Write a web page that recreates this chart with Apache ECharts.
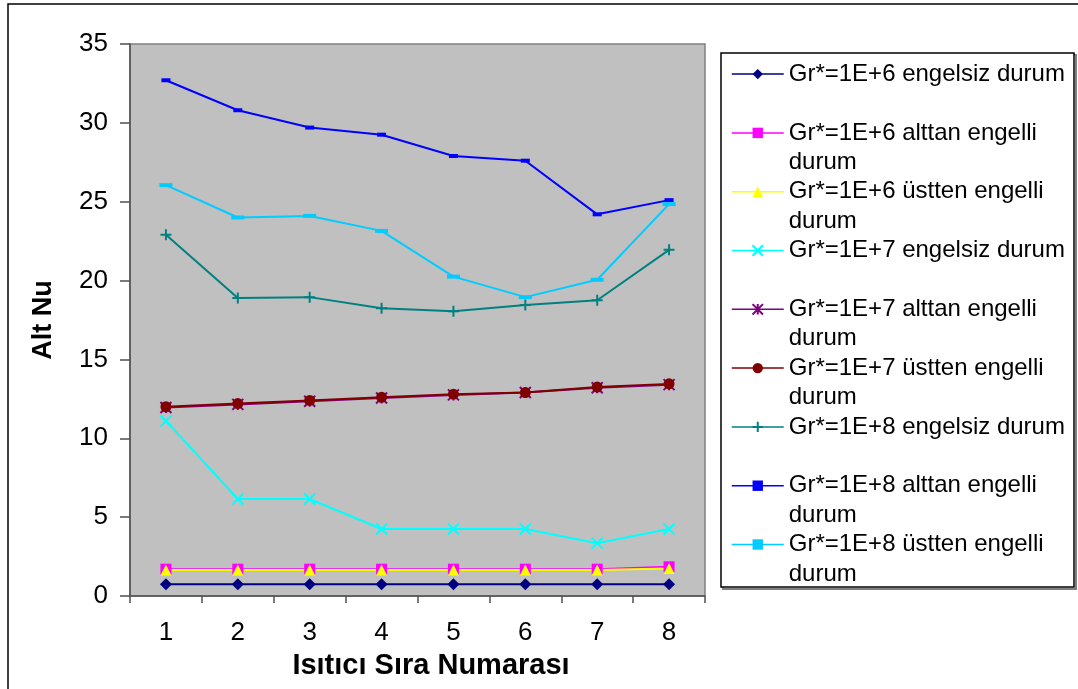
<!DOCTYPE html>
<html>
<head>
<meta charset="utf-8">
<script src="https://cdn.jsdelivr.net/npm/echarts@6/dist/echarts.min.js"></script>
<style>
  html, body { margin: 0; padding: 0; background: #fff; }
  #chart { width: 1078px; height: 689px; }
</style>
</head>
<body>
<div id="chart"></div>
<script>
// categories and values
var categories = ['1', '2', '3', '4', '5', '6', '7', '8'];
var seriesNames = [
    'Gr*=1E+6 engelsiz durum',
    'Gr*=1E+6 alttan engelli durum',
    'Gr*=1E+6 üstten engelli durum',
    'Gr*=1E+7 engelsiz durum',
    'Gr*=1E+7 alttan engelli durum',
    'Gr*=1E+7 üstten engelli durum',
    'Gr*=1E+8 engelsiz durum',
    'Gr*=1E+8 alttan engelli durum',
    'Gr*=1E+8 üstten engelli durum'
];
// how the legend breaks each name into lines
var legendLines = [
    ['Gr*=1E+6 engelsiz durum', ''],
    ['Gr*=1E+6 alttan engelli', 'durum'],
    ['Gr*=1E+6 üstten engelli', 'durum'],
    ['Gr*=1E+7 engelsiz durum', ''],
    ['Gr*=1E+7 alttan engelli', 'durum'],
    ['Gr*=1E+7 üstten engelli', 'durum'],
    ['Gr*=1E+8 engelsiz durum', ''],
    ['Gr*=1E+8 alttan engelli', 'durum'],
    ['Gr*=1E+8 üstten engelli', 'durum']
];
var gr6Engelsiz = [0.75, 0.75, 0.75, 0.75, 0.75, 0.75, 0.75, 0.75];
var gr6Alttan   = [1.7, 1.7, 1.7, 1.7, 1.7, 1.7, 1.7, 1.85];
var gr6Ustten   = [1.65, 1.65, 1.65, 1.65, 1.65, 1.65, 1.65, 1.75];
var gr7Engelsiz = [11.1, 6.15, 6.15, 4.25, 4.25, 4.25, 3.35, 4.25];
var gr7Alttan   = [11.95, 12.15, 12.35, 12.55, 12.75, 12.9, 13.2, 13.4];
var gr7Ustten   = [12.0, 12.2, 12.4, 12.6, 12.8, 12.9, 13.25, 13.45];
var gr8Engelsiz = [22.9, 18.9, 18.95, 18.25, 18.05, 18.45, 18.75, 21.95];
var gr8Alttan   = [32.7, 30.8, 29.7, 29.25, 27.9, 27.6, 24.2, 25.1];
var gr8Ustten   = [26.05, 24.0, 24.1, 23.15, 20.25, 18.95, 20.05, 24.85];

var FONT = '"Liberation Sans", Arial, sans-serif';

var chart = echarts.init(document.getElementById('chart'));

function lineSeries(name, data, color, symbol, size, stroked) {
    return {
        name: name,
        type: 'line',
        data: data,
        symbol: symbol,
        symbolSize: size,
        showSymbol: true,
        lineStyle: { color: color, width: 2 },
        itemStyle: {
            color: color,
            borderColor: color,
            borderWidth: stroked ? 2 : 0
        },
        emphasis: { disabled: true }
    };
}

var xPath = 'path://M0 0L10 10M10 0L0 10';
var starPath = 'path://M5 0L5 10M0 0L10 10M10 0L0 10';
var plusPath = 'path://M5 0L5 10M0 5L10 5';

var option = {
    animation: false,
    backgroundColor: '#ffffff',
    grid: {
        left: 130,
        right: 373,
        top: 44,
        bottom: 93,
        show: true,
        backgroundColor: '#c0c0c0',
        borderColor: '#808080',
        borderWidth: 1.5
    },
    graphic: [
        {
            type: 'rect',
            shape: { x: 8, y: 4, width: 1100, height: 700 },
            style: { fill: 'none', stroke: '#000', lineWidth: 1.5 },
            silent: true
        },
        {
            type: 'rect',
            shape: { x: 723, y: 55, width: 353, height: 534 },
            style: { fill: 'none', stroke: '#808080', lineWidth: 2 },
            silent: true
        },
        {
            type: 'rect',
            shape: { x: 721, y: 53, width: 353, height: 534 },
            style: { fill: '#fff', stroke: '#000', lineWidth: 1.5 },
            silent: true
        }
    ],
    legend: {
        orient: 'vertical',
        left: 731,
        top: 30,
        padding: 0,
        itemGap: -29.4,
        itemWidth: 52,
        itemHeight: 13,
        selectedMode: false,
        lineStyle: { width: 1.5 },
        data: seriesNames,
        formatter: function (name) {
            var l = legendLines[seriesNames.indexOf(name)];
            return '\n' + l[0] + '\n' + l[1];
        },
        textStyle: {
            fontFamily: FONT,
            fontSize: 24,
            lineHeight: 29.4,
            color: '#000'
        }
    },
    xAxis: {
        type: 'category',
        data: categories,
        boundaryGap: true,
        name: 'Isıtıcı Sıra Numarası',
        nameLocation: 'middle',
        nameGap: 55,
        nameTextStyle: {
            fontFamily: FONT,
            fontSize: 29,
            fontWeight: 'bold',
            color: '#000',
            padding: [0, 0, 0, 27]
        },
        axisLine: { show: true, lineStyle: { color: '#505050', width: 1.5 } },
        axisTick: { show: true, alignWithLabel: false, inside: false, length: 7, lineStyle: { color: '#505050', width: 1.5 } },
        axisLabel: { fontFamily: FONT, fontSize: 26, color: '#000', margin: 24 },
        splitLine: { show: false }
    },
    yAxis: {
        type: 'value',
        min: 0,
        max: 35,
        interval: 5,
        name: 'Alt Nu',
        nameLocation: 'middle',
        nameRotate: 90,
        nameGap: 73,
        nameTextStyle: {
            fontFamily: FONT,
            fontSize: 27,
            fontWeight: 'bold',
            color: '#000'
        },
        axisLine: { show: true, lineStyle: { color: '#505050', width: 1.5 } },
        axisTick: { show: true, inside: false, length: 10, lineStyle: { color: '#505050', width: 1.5 } },
        axisLabel: { fontFamily: FONT, fontSize: 26, color: '#000', margin: 22 },
        splitLine: { show: false }
    },
    series: [
        lineSeries(seriesNames[0], gr6Engelsiz, '#000080', 'diamond', 12, false),
        lineSeries(seriesNames[1], gr6Alttan, '#ff00ff', 'rect', 11, false),
        lineSeries(seriesNames[2], gr6Ustten, '#ffff00', 'triangle', 11, false),
        lineSeries(seriesNames[3], gr7Engelsiz, '#00ffff', xPath, 11, true),
        lineSeries(seriesNames[4], gr7Alttan, '#800080', starPath, 11, true),
        lineSeries(seriesNames[5], gr7Ustten, '#800000', 'circle', 11, false),
        lineSeries(seriesNames[6], gr8Engelsiz, '#008080', plusPath, 11, true),
        lineSeries(seriesNames[7], gr8Alttan, '#0000ff', 'rect', [9, 4], false),
        lineSeries(seriesNames[8], gr8Ustten, '#00ccff', 'rect', [13, 4], false)
    ]
};
chart.setOption(option);
</script>
</body>
</html>
